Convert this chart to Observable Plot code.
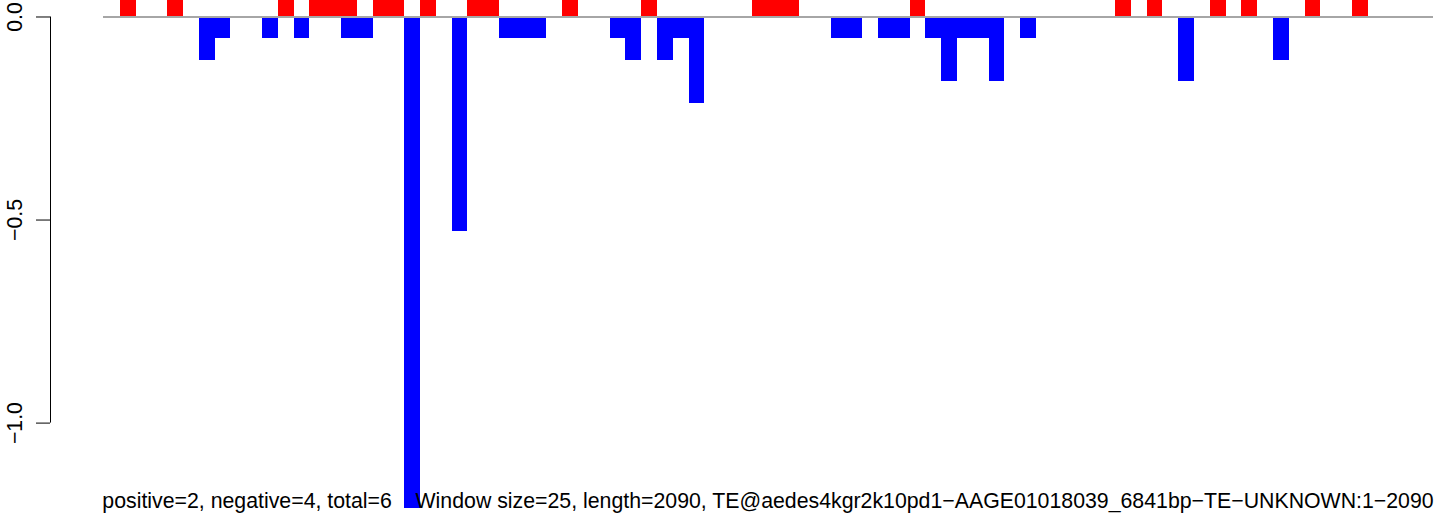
<!DOCTYPE html>
<html>
<head>
<meta charset="utf-8">
<script src="https://cdn.jsdelivr.net/npm/d3@7"></script>
<script src="https://cdn.jsdelivr.net/npm/@observablehq/plot@0.6"></script>
<style>
  html, body { margin: 0; padding: 0; background: #fff; }
  #chart svg { display: block; }
</style>
</head>
<body>
<div id="chart"></div>
<script>
// Window indices (25 bp windows over length 2090) and values
const posIdx = [1, 4, 11, 13, 14, 15, 17, 18, 20, 23, 24, 29, 34, 41, 42, 43, 51, 64, 66, 70, 72, 76, 79];
const posVal = [0.054, 0.054, 0.054, 0.054, 0.054, 0.054, 0.054, 0.054, 0.054, 0.054, 0.054, 0.054,
                0.054, 0.054, 0.054, 0.054, 0.054, 0.054, 0.054, 0.054, 0.054, 0.054, 0.054];
const negIdx = [6, 7, 10, 12, 15, 16, 19, 22, 25, 26, 27, 32, 33, 35, 36, 37, 46, 47, 49, 50, 52, 53, 54, 55, 56, 58, 68, 74];
const negVal = [-0.107, -0.054, -0.054, -0.054, -0.054, -0.054, -1.21, -0.528, -0.054, -0.054, -0.054, -0.054,
                -0.107, -0.107, -0.054, -0.213, -0.054, -0.054, -0.054, -0.054, -0.054, -0.160, -0.054, -0.054,
                -0.160, -0.054, -0.160, -0.107];
const nWindows = 84;
const yTicks = [0, -0.5, -1];
const caption = "positive=2, negative=4, total=6\u00a0\u00a0\u00a0\u00a0Window size=25, length=2090, TE@aedes4kgr2k10pd1\u2212AAGE01018039_6841bp\u2212TE\u2212UNKNOWN:1\u22122090";

const bars = [
  ...posIdx.map((i, k) => ({i, v: posVal[k], c: "#ff0000"})),
  ...negIdx.map((i, k) => ({i, v: negVal[k], c: "#0000ff"}))
];

const fmt = d3.format(".1f");
const FONT = 21.3;

const chart = Plot.plot({
  width: 1444,
  height: 529,
  marginLeft: 104,
  marginRight: 13,
  marginTop: 0,
  marginBottom: 0,
  style: {fontFamily: "'Liberation Sans', Arial, Helvetica, sans-serif", background: "#fff", color: "#000"},
  x: {domain: [0, nWindows], axis: null},
  y: {domain: [-1.262, 0.0406], axis: null},
  marks: [
    Plot.rect(bars, {x1: "i", x2: d => d.i + 1, y1: 0, y2: "v", fill: "c", clip: true, shapeRendering: "crispEdges"}),
    Plot.ruleY([0], {x1: 0, x2: nWindows, stroke: "#a6a6a6", strokeWidth: 2, insetLeft: -1, insetRight: -2}),
    Plot.ruleX([0], {y1: -1, y2: 0, dx: -54, stroke: "#000", strokeWidth: 1}),
    Plot.axisY({
      ticks: yTicks, tickSize: 14, tickPadding: 15, tickRotate: -90, dx: -54,
      tickFormat: fmt, fontSize: FONT, label: null, anchor: "left", stroke: "#000", fill: "#000"
    }),
    Plot.text([caption], {frameAnchor: "bottom", lineAnchor: "bottom", dy: -21.3, fontSize: FONT, fill: "#000"})
  ]
});
document.getElementById("chart").appendChild(chart);
</script>
</body>
</html>
